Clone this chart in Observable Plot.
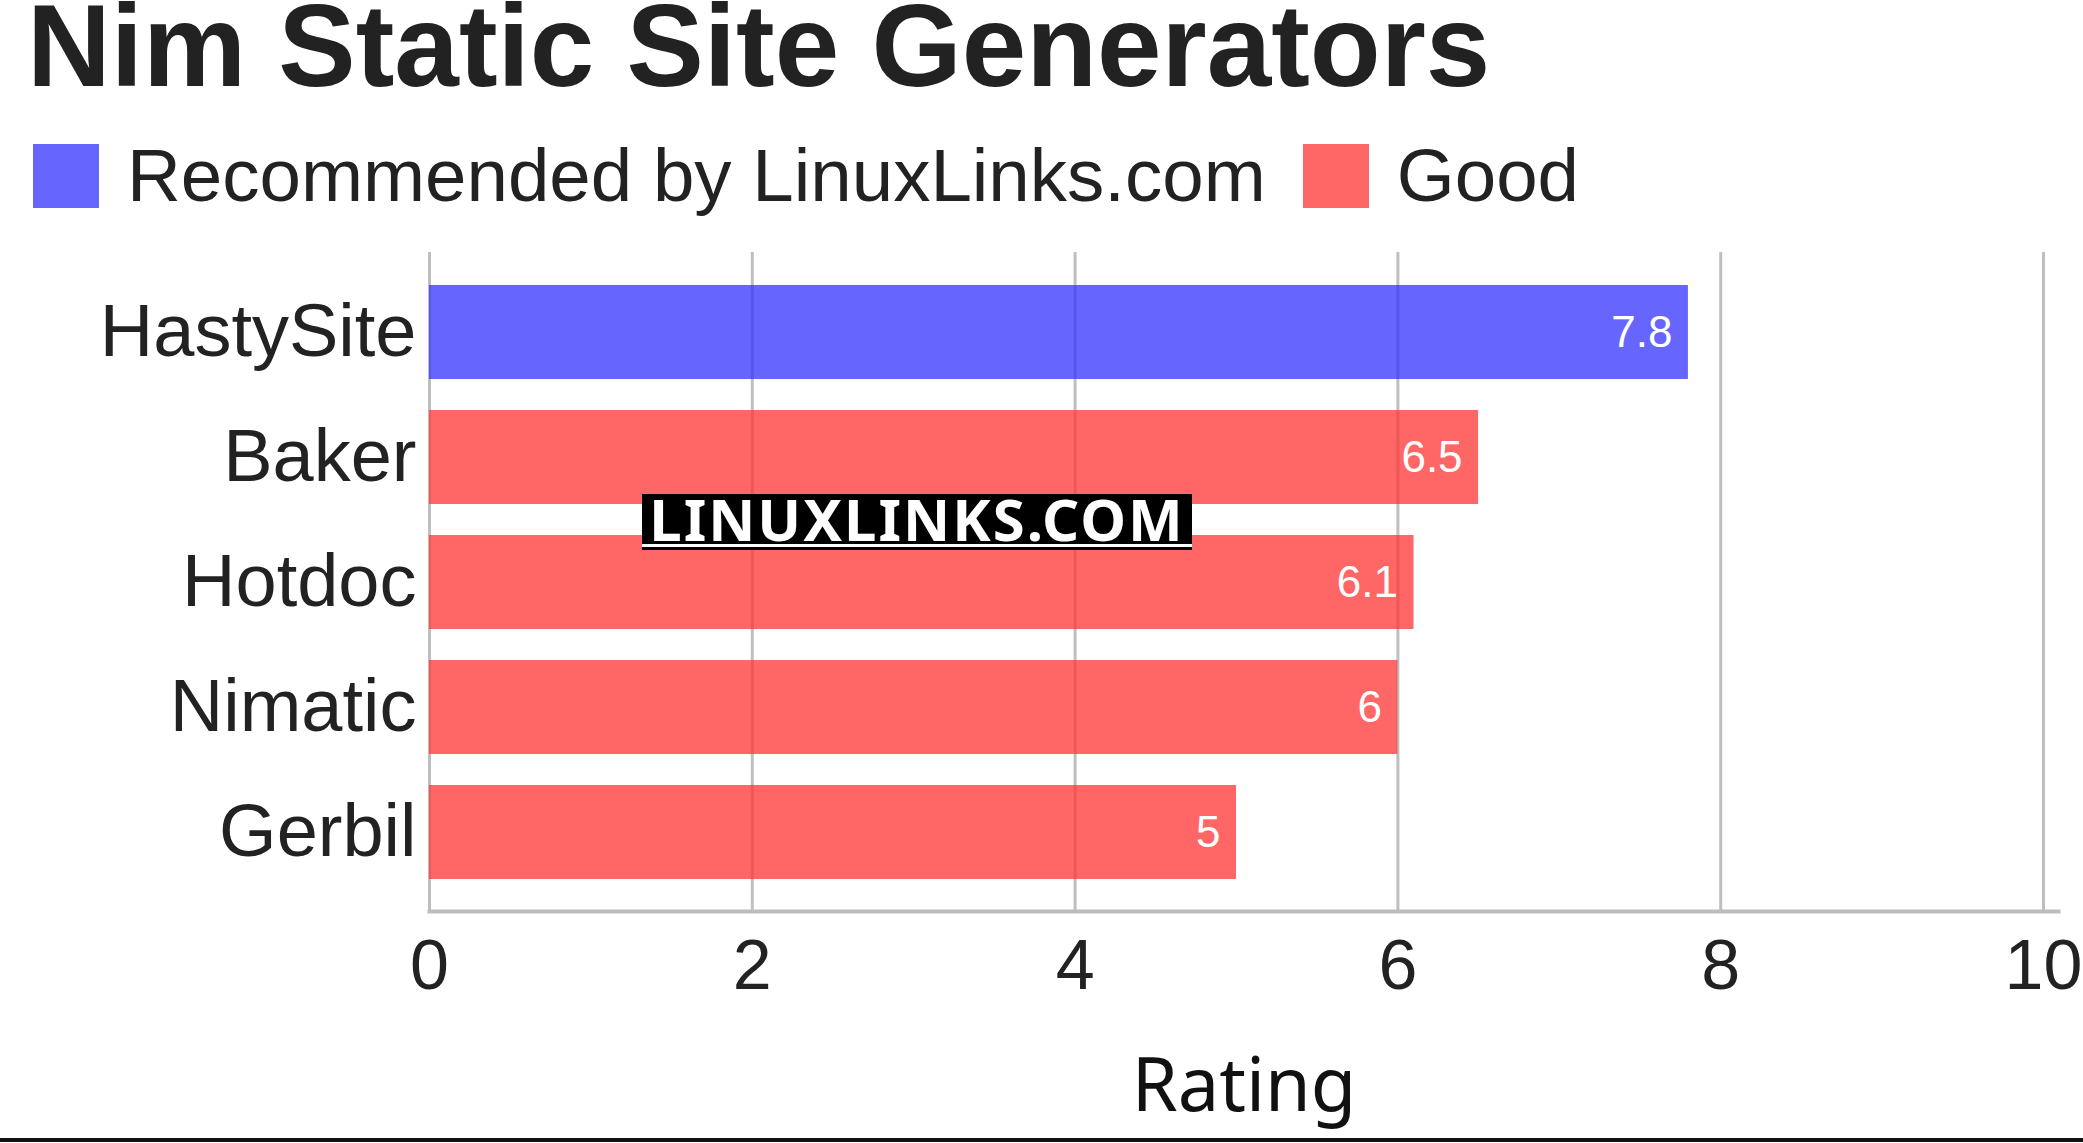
<!DOCTYPE html>
<html>
<head>
<meta charset="utf-8">
<script src="https://cdn.jsdelivr.net/npm/d3@7"></script>
<script src="https://cdn.jsdelivr.net/npm/@observablehq/plot@0.6"></script>
<style>
  html, body { margin: 0; padding: 0; background: #fff; }
  #page { position: relative; width: 2083px; height: 1143px; overflow: hidden; background: #fff; font-family: "Liberation Sans", Arial, sans-serif; color: #222; }
  #title { position: absolute; left: 27px; top: -2px; font-size: 116px; font-weight: bold; line-height: 96px; white-space: nowrap; color: #222; }
  #legend { position: absolute; left: 33px; top: 136px; display: flex; align-items: center; font-size: 74.5px; line-height: 80px; white-space: nowrap; color: #222; }
  .sw { width: 66px; height: 64px; display: inline-block; }
  #chart { position: absolute; left: 0; top: 230px; }
  #chart g[aria-label="x-axis label"] text { font-family: "Noto Sans", sans-serif; font-size: 74px; fill: #111; }
  #wm { position: absolute; left: 642px; top: 494px; height: 56px; width: 550px; color: #fff; font-family: "Noto Sans", sans-serif; font-weight: bold; font-size: 58px; letter-spacing: 2px; line-height: 50px; text-align: center;
        background: linear-gradient(to bottom, #000 0, #000 calc(100% - 6px), #fff calc(100% - 6px), #fff calc(100% - 3px), #000 calc(100% - 3px), #000 100%); }
  #bottomline { position: absolute; left: 0; top: 1138px; width: 2083px; height: 4px; background: #111; }
</style>
</head>
<body>
<div id="page">
  <div id="title"></div>
  <div id="legend"></div>
  <div id="chart"></div>
  <div id="wm">LINUXLINKS.COM</div>
  <div id="bottomline"></div>
</div>
<script>
const titleText = "Nim Static Site Generators";
const names = ["HastySite", "Baker", "Hotdoc", "Nimatic", "Gerbil"];
const ratings = [7.8, 6.5, 6.1, 6, 5];
const groups = ["Recommended by LinuxLinks.com", "Good", "Good", "Good", "Good"];
const legendLabels = ["Recommended by LinuxLinks.com", "Good"];
const legendColors = ["#6666ff", "#ff6666"];
const barColors = ["#3333ff", "#ff3333"];
const xTicks = [0, 2, 4, 6, 8, 10];
const xLabel = "Rating";

document.getElementById("title").textContent = titleText;

const legend = document.getElementById("legend");
legendLabels.forEach((lab, i) => {
  const sw = document.createElement("span");
  sw.className = "sw";
  sw.style.background = legendColors[i];
  sw.style.marginRight = "28px";
  const t = document.createElement("span");
  t.textContent = lab;
  t.style.marginRight = i === 0 ? "37px" : "0";
  legend.appendChild(sw);
  legend.appendChild(t);
});

const data = names.map((n, i) => ({name: n, rating: ratings[i], group: groups[i]}));

const chart = Plot.plot({
  width: 2083,
  height: 906,
  marginTop: 22,
  marginBottom: 225,
  marginLeft: 429,
  marginRight: 25,
  style: {fontFamily: "Liberation Sans, Arial, sans-serif", background: "transparent", color: "#222"},
  x: {domain: [0, 10], insetRight: 15},
  y: {domain: names, padding: 0.25},
  color: {domain: legendLabels, range: barColors},
  marks: [
    Plot.gridX(xTicks, {stroke: "#bfbfbf", strokeOpacity: 1, strokeWidth: 3}),
    Plot.barX(data, {x: "rating", y: "name", fill: "group", fillOpacity: 0.75}),
    Plot.text(data, {x: "rating", y: "name", text: d => String(d.rating), textAnchor: "end", dx: -16, fill: "white", fontSize: 44}),
    Plot.frame({anchor: "bottom", stroke: "#bdbdbd", strokeWidth: 4}),
    Plot.axisY({tickSize: 0, tickPadding: 13, fontSize: 74, label: null, fill: "#222"}),
    Plot.axisX({ticks: xTicks, tickSize: 0, tickPadding: 28, fontSize: 70, label: xLabel, labelAnchor: "center", labelOffset: 199, labelArrow: "none", fill: "#222"})
  ]
});
document.getElementById("chart").appendChild(chart);
</script>
</body>
</html>
